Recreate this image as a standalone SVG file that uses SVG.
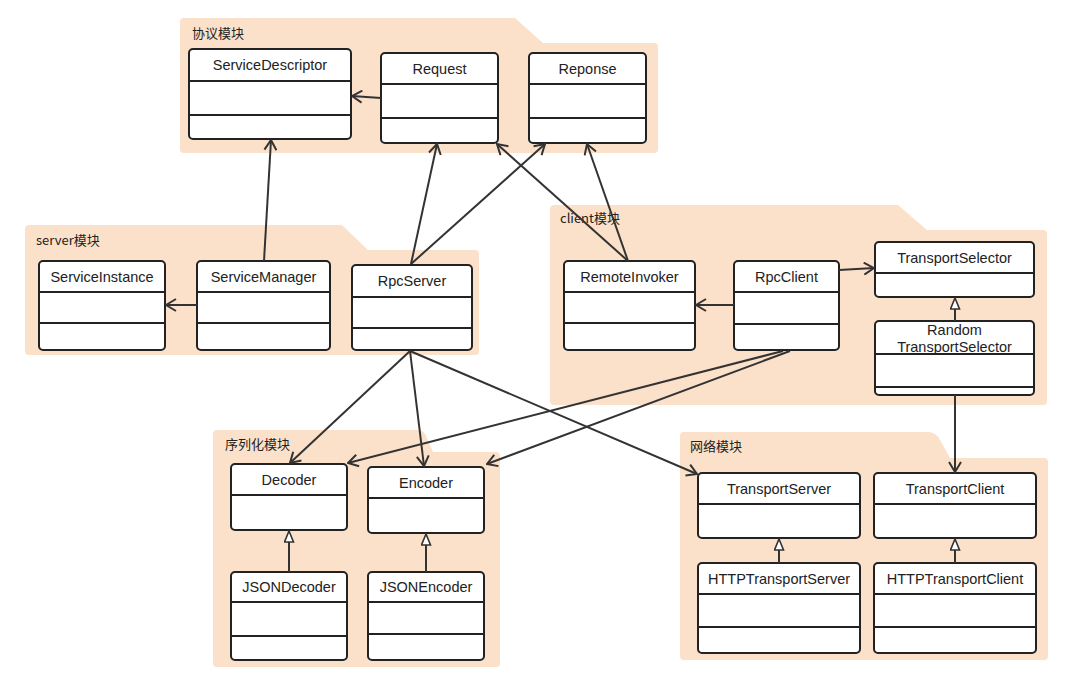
<svg xmlns="http://www.w3.org/2000/svg" width="1074" height="691" viewBox="0 0 1074 691">
<style>
.pkg{fill:#fce1ca;stroke:none}
.plabel{font-family:"Noto Sans CJK SC","Liberation Sans",sans-serif;font-size:13px;fill:#222}
.box{fill:#fff;stroke:#222;stroke-width:2}
.div{stroke:#222;stroke-width:2}
.name{font-family:"Liberation Sans","Noto Sans CJK SC",sans-serif;font-size:14.5px;fill:#222;text-anchor:middle}
.conn{stroke:#333;stroke-width:2;fill:none}
.dep{marker-end:url(#open)}
.real{marker-end:url(#tri)}
</style>
<defs>
<marker id="open" viewBox="0 0 12 14" refX="11" refY="7" markerWidth="12" markerHeight="14" markerUnits="userSpaceOnUse" orient="auto">
<path d="M1,1 L11,7 L1,13" fill="none" stroke="#333" stroke-width="2"/>
</marker>
<marker id="tri" viewBox="0 0 13 11" refX="12" refY="5.5" markerWidth="13" markerHeight="11" markerUnits="userSpaceOnUse" orient="auto">
<path d="M1,1 L12,5.5 L1,10 Z" fill="#fff" stroke="#333" stroke-width="1.6"/>
</marker>
</defs>
<rect width="1074" height="691" fill="#fff"/>

<g id="pkg-protocol">
<path class="pkg" d="M184,18 H515 L543,43 H654 Q658,43 658,47 V149 Q658,153 654,153 H184 Q180,153 180,149 V22 Q180,18 184,18 Z"/>
<text class="plabel" x="192" y="38">协议模块</text>
</g>
<g id="pkg-server">
<path class="pkg" d="M29,225 H342 L368,250 H475 Q479,250 479,254 V351 Q479,355 475,355 H29 Q25,355 25,351 V229 Q25,225 29,225 Z"/>
<text class="plabel" x="36" y="245">server模块</text>
</g>
<g id="pkg-client">
<path class="pkg" d="M554,205 H898 L927,230 H1043 Q1047,230 1047,234 V401 Q1047,405 1043,405 H554 Q550,405 550,401 V209 Q550,205 554,205 Z"/>
<text class="plabel" x="560" y="223">client模块</text>
</g>
<g id="pkg-serial">
<path class="pkg" d="M217,430 H418 Q424,430 427,438 L433,452 H496 Q500,452 500,456 V663 Q500,667 496,667 H217 Q213,667 213,663 V434 Q213,430 217,430 Z"/>
<text class="plabel" x="225" y="449">序列化模块</text>
</g>
<g id="pkg-network">
<path class="pkg" d="M684,432 H928 Q936,432 940,440 L950,458 H1044 Q1048,458 1048,462 V656 Q1048,660 1044,660 H684 Q680,660 680,656 V436 Q680,432 684,432 Z"/>
<text class="plabel" x="690" y="451">网络模块</text>
</g>

<g id="ServiceDescriptor">
<rect class="box" x="189" y="49" width="162" height="90" rx="4"/>
<line class="div" x1="189" y1="81" x2="351" y2="81"/>
<line class="div" x1="189" y1="115" x2="351" y2="115"/>
<text class="name" x="270" y="70">ServiceDescriptor</text>
</g>
<g id="Request">
<rect class="box" x="381" y="53" width="117" height="90" rx="4"/>
<line class="div" x1="381" y1="84" x2="498" y2="84"/>
<line class="div" x1="381" y1="118" x2="498" y2="118"/>
<text class="name" x="439.5" y="74">Request</text>
</g>
<g id="Reponse">
<rect class="box" x="529" y="53" width="117" height="90" rx="4"/>
<line class="div" x1="529" y1="84" x2="646" y2="84"/>
<line class="div" x1="529" y1="118" x2="646" y2="118"/>
<text class="name" x="587.5" y="74">Reponse</text>
</g>

<g id="ServiceInstance">
<rect class="box" x="39" y="261" width="126" height="89" rx="4"/>
<line class="div" x1="39" y1="292" x2="165" y2="292"/>
<line class="div" x1="39" y1="323" x2="165" y2="323"/>
<text class="name" x="102" y="282">ServiceInstance</text>
</g>
<g id="ServiceManager">
<rect class="box" x="197" y="261" width="133" height="89" rx="4"/>
<line class="div" x1="197" y1="292" x2="330" y2="292"/>
<line class="div" x1="197" y1="323" x2="330" y2="323"/>
<text class="name" x="263.5" y="282">ServiceManager</text>
</g>
<g id="RpcServer">
<rect class="box" x="352" y="265" width="120" height="85" rx="4"/>
<line class="div" x1="352" y1="297" x2="472" y2="297"/>
<line class="div" x1="352" y1="328" x2="472" y2="328"/>
<text class="name" x="412" y="286">RpcServer</text>
</g>

<g id="RemoteInvoker">
<rect class="box" x="564" y="261" width="131" height="89" rx="4"/>
<line class="div" x1="564" y1="292" x2="695" y2="292"/>
<line class="div" x1="564" y1="323" x2="695" y2="323"/>
<text class="name" x="629.5" y="282">RemoteInvoker</text>
</g>
<g id="RpcClient">
<rect class="box" x="734" y="261" width="105" height="89" rx="4"/>
<line class="div" x1="734" y1="292" x2="839" y2="292"/>
<line class="div" x1="734" y1="324" x2="839" y2="324"/>
<text class="name" x="786.5" y="282">RpcClient</text>
</g>
<g id="TransportSelector">
<rect class="box" x="875" y="242" width="159" height="55" rx="4"/>
<line class="div" x1="875" y1="273" x2="1034" y2="273"/>
<text class="name" x="954.5" y="263">TransportSelector</text>
</g>
<g id="RandomTransportSelector">
<rect class="box" x="875" y="321" width="159" height="74" rx="4"/>
<line class="div" x1="875" y1="354" x2="1034" y2="354"/>
<line class="div" x1="875" y1="387" x2="1034" y2="387"/>
<text class="name" x="954.5" y="335">Random</text>
<text class="name" x="954.5" y="352">TransportSelector</text>
</g>

<g id="Decoder">
<rect class="box" x="231" y="464" width="116" height="66" rx="4"/>
<line class="div" x1="231" y1="495" x2="347" y2="495"/>
<text class="name" x="289" y="485">Decoder</text>
</g>
<g id="Encoder">
<rect class="box" x="368" y="467" width="116" height="66" rx="4"/>
<line class="div" x1="368" y1="498" x2="484" y2="498"/>
<text class="name" x="426" y="488">Encoder</text>
</g>
<g id="JSONDecoder">
<rect class="box" x="231" y="572" width="116" height="88" rx="4"/>
<line class="div" x1="231" y1="602" x2="347" y2="602"/>
<line class="div" x1="231" y1="636" x2="347" y2="636"/>
<text class="name" x="289" y="592">JSONDecoder</text>
</g>
<g id="JSONEncoder">
<rect class="box" x="368" y="572" width="116" height="88" rx="4"/>
<line class="div" x1="368" y1="602" x2="484" y2="602"/>
<line class="div" x1="368" y1="634" x2="484" y2="634"/>
<text class="name" x="426" y="592">JSONEncoder</text>
</g>

<g id="TransportServer">
<rect class="box" x="698" y="473" width="162" height="65" rx="4"/>
<line class="div" x1="698" y1="504" x2="860" y2="504"/>
<text class="name" x="779" y="494">TransportServer</text>
</g>
<g id="TransportClient">
<rect class="box" x="874" y="473" width="162" height="65" rx="4"/>
<line class="div" x1="874" y1="504" x2="1036" y2="504"/>
<text class="name" x="955" y="494">TransportClient</text>
</g>
<g id="HTTPTransportServer">
<rect class="box" x="698" y="563" width="162" height="90" rx="4"/>
<line class="div" x1="698" y1="594" x2="860" y2="594"/>
<line class="div" x1="698" y1="627" x2="860" y2="627"/>
<text class="name" x="779" y="584">HTTPTransportServer</text>
</g>
<g id="HTTPTransportClient">
<rect class="box" x="874" y="563" width="162" height="90" rx="4"/>
<line class="div" x1="874" y1="594" x2="1036" y2="594"/>
<line class="div" x1="874" y1="627" x2="1036" y2="627"/>
<text class="name" x="955" y="584">HTTPTransportClient</text>
</g>

<g id="connectors">
<line class="conn dep" x1="381" y1="98" x2="352" y2="96"/>
<line class="conn dep" x1="264" y1="261" x2="271" y2="140"/>
<line class="conn dep" x1="197" y1="305" x2="166" y2="305"/>
<line class="conn dep" x1="411" y1="264" x2="437" y2="144"/>
<line class="conn dep" x1="411" y1="264" x2="545" y2="144"/>
<line class="conn dep" x1="628" y1="261" x2="497" y2="144"/>
<line class="conn dep" x1="628" y1="261" x2="587" y2="144"/>
<line class="conn dep" x1="734" y1="305" x2="696" y2="305"/>
<line class="conn dep" x1="839" y1="270" x2="874" y2="268"/>
<line class="conn real" x1="955" y1="321" x2="955" y2="298"/>
<line class="conn dep" x1="955" y1="395" x2="955" y2="472"/>
<line class="conn dep" x1="410" y1="351" x2="290" y2="463"/>
<line class="conn dep" x1="410" y1="351" x2="424" y2="466"/>
<line class="conn dep" x1="410" y1="351" x2="697" y2="474"/>
<line class="conn dep" x1="783" y1="351" x2="348" y2="463"/>
<line class="conn dep" x1="790" y1="351" x2="487" y2="464"/>
<line class="conn real" x1="289" y1="572" x2="289" y2="531"/>
<line class="conn real" x1="426" y1="572" x2="426" y2="534"/>
<line class="conn real" x1="779" y1="563" x2="779" y2="539"/>
<line class="conn real" x1="955" y1="563" x2="955" y2="539"/>
</g>
</svg>
